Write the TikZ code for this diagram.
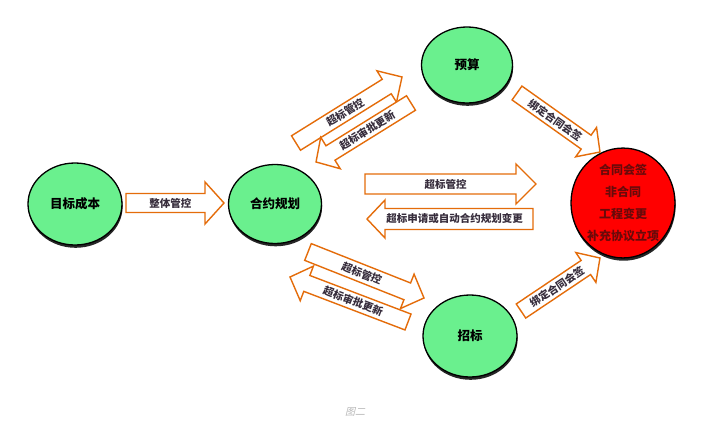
\documentclass[tikz,border=0pt]{standalone}
\usepackage{fontspec}
\setmainfont{Noto Sans CJK SC}
\newfontfamily\cjk{Noto Sans CJK SC}
\newfontfamily\capfont[FakeSlant=0.25]{Noto Sans CJK SC}
\usetikzlibrary{calc,shapes.geometric,shadows}
\definecolor{arrorange}{RGB}{228,108,10}
\definecolor{nodegreen}{RGB}{106,240,142}
\definecolor{labelgray}{RGB}{55,45,60}
\definecolor{redtext}{RGB}{105,10,10}
\tikzset{
  ell/.style={ellipse, draw=black, line width=1.3pt, fill=nodegreen, inner sep=0pt,
    font=\cjk\bfseries\fontsize{12.5}{14}\selectfont, text=black,
    drop shadow={shadow xshift=0.6pt, shadow yshift=-2.8pt, fill=black!85, opacity=1}},
  barrow/.style={draw=arrorange, line width=1.4pt, fill=white, line join=miter},
  arrlab/.style={font=\cjk\bfseries\fontsize{10.5}{12}\selectfont, text=labelgray, inner sep=0pt},
}
% #1 tail, #2 tip, #3 shaft half width, #4 head half width, #5 head length, #6 label
\newcommand\blockarrow[6]{%
  \path let \p1=(#1), \p2=(#2), \n1={atan2(\y2-\y1,\x2-\x1)}, \n2={veclen(\x2-\x1,\y2-\y1)} in
    \pgfextra{\xdef\angA{\n1}\xdef\lenA{\n2}\xdef\tailX{\x1}\xdef\tailY{\y1}};
  \pgfmathsetmacro\textang{ifthenelse(\angA>90,\angA-180,ifthenelse(\angA<-90,\angA+180,\angA))}%
  \begin{scope}[shift={(\tailX,\tailY)}, rotate=\angA]
    \draw[barrow] (0,-#3) -- (\lenA-#5,-#3) -- (\lenA-#5,-#4) -- (\lenA,0)
      -- (\lenA-#5,#4) -- (\lenA-#5,#3) -- (0,#3) -- cycle;
    \node[arrlab, rotate=\textang] at ({(\lenA-#5/2)/2},0) {#6};
  \end{scope}%
}
\begin{document}
\begin{tikzpicture}[x=1pt,y=-1pt]
\fill[white] (0,0) rectangle (702,439);
\useasboundingbox (0,0) rectangle (702,439);

% ellipse nodes
\node[ell, minimum width=94pt, minimum height=82pt] (mb) at (75,204) {目标成本};
\node[ell, minimum width=93pt, minimum height=79pt] (hy) at (275,204) {合约规划};
\node[ell, minimum width=91pt, minimum height=76pt] (ys) at (467,65) {预算};
\node[ell, minimum width=94pt, minimum height=82pt] (zb) at (470,336) {招标};
\node[ell, fill=red, minimum width=104pt, minimum height=98pt, text=redtext,
      font=\cjk\bfseries\fontsize{12}{22}\selectfont, align=center] (ht) at (623,203)
      {合同会签\\非合同\\工程变更\\补充协议立项};

% arrow end points
\coordinate (a1s) at (126,203);  \coordinate (a1e) at (224,203);
\coordinate (a2s) at (365,184);  \coordinate (a2e) at (536,184);
\coordinate (a3s) at (533,219);  \coordinate (a3e) at (367,219);
\coordinate (a4s) at (296,143);  \coordinate (a4e) at (402,77);
\coordinate (a5s) at (411,103);  \coordinate (a5e) at (316,162);
\coordinate (a6s) at (308,252);  \coordinate (a6e) at (424,298);
\coordinate (a7s) at (408,322);  \coordinate (a7e) at (290,277);
\coordinate (a8s) at (517,93);   \coordinate (a8e) at (600,152);
\coordinate (a9s) at (521,311);  \coordinate (a9e) at (600,258);

\blockarrow{a1s}{a1e}{9.5}{21}{19}{整体管控}
\blockarrow{a2s}{a2e}{10}{20}{20}{超标管控}
\blockarrow{a3s}{a3e}{10.5}{19}{18}{超标申请或自动合约规划变更}
\blockarrow{a4s}{a4e}{8.5}{18.5}{18}{超标管控}
\blockarrow{a5s}{a5e}{8.5}{18.5}{17}{超标审批更新}
\blockarrow{a6s}{a6e}{9}{18.5}{18}{超标管控}
\blockarrow{a7s}{a7e}{8.5}{18.5}{18}{超标审批更新}
\blockarrow{a8s}{a8e}{8.5}{18}{17}{绑定合同会签}
\blockarrow{a9s}{a9e}{8.5}{18}{17}{绑定合同会签}

\node[font=\capfont\fontsize{10}{12}\selectfont, text=gray!55] (cap) at (355,412) {图二};
\end{tikzpicture}
\end{document}
